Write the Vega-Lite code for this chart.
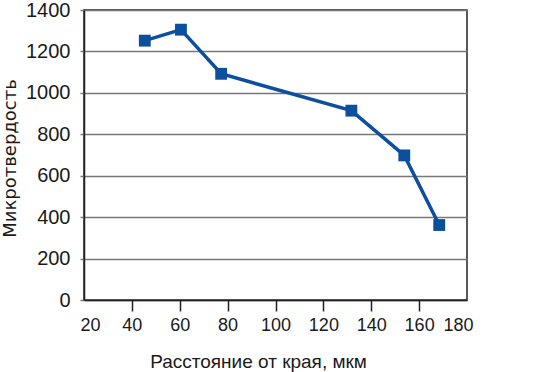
{
  "$schema": "https://vega.github.io/schema/vega-lite/v6.json",
  "width": 383,
  "height": 290,
  "autosize": {"type": "none"},
  "padding": {"left": 84, "top": 10, "right": 71, "bottom": 72},
  "background": "white",
  "config": {
    "font": "Liberation Sans",
    "view": {"stroke": "#222", "strokeWidth": 1.5}
  },
  "data": {
    "values": [
      {"x": 45.4, "y": 1252},
      {"x": 60.5, "y": 1305},
      {"x": 77.3, "y": 1092},
      {"x": 131.7, "y": 914},
      {"x": 153.8, "y": 698},
      {"x": 168.4, "y": 362}
    ]
  },
  "encoding": {
    "x": {
      "field": "x",
      "type": "quantitative",
      "scale": {"domain": [20, 180], "nice": false, "zero": false},
      "axis": {
        "title": "Расстояние от края, мкм",
        "values": [20, 40, 60, 80, 100, 120, 140, 160, 180],
        "format": "d",
        "grid": false,
        "domainColor": "#222",
        "domainWidth": 1.5,
        "tickColor": "#222",
        "tickWidth": 1.5,
        "tickSize": 11,
        "tickOpacity": {"condition": {"test": "datum.value == 20 || datum.value == 180", "value": 0}, "value": 1},
        "labelFlush": false,
        "labelOffset": {"condition": [{"test": "datum.value == 20", "value": 6}, {"test": "datum.value == 180", "value": -9}], "value": 0},
        "labelFontSize": 18,
        "labelColor": "#1a1a1a",
        "labelPadding": 5,
        "titleFontSize": 19,
        "titleFontWeight": "normal",
        "titleColor": "#1a1a1a",
        "titleX": 174,
        "titleY": 67,
        "titleBaseline": "alphabetic",
        "titleAlign": "center"
      }
    },
    "y": {
      "field": "y",
      "type": "quantitative",
      "scale": {"domain": [0, 1400], "nice": false},
      "axis": {
        "title": "Микротвердость",
        "values": [0, 200, 400, 600, 800, 1000, 1200, 1400],
        "format": "d",
        "grid": true,
        "gridColor": "#777",
        "gridWidth": 1.5,
        "domainColor": "#222",
        "domainWidth": 1.5,
        "tickColor": "#777",
        "tickWidth": 1.5,
        "tickSize": 4,
        "labelFontSize": 20,
        "labelColor": "#1a1a1a",
        "labelPadding": 10,
        "titleFont": "DejaVu Sans",
        "titleFontSize": 18,
        "titleFontWeight": "normal",
        "titleColor": "#1a1a1a",
        "titleX": -65,
        "titleY": 148,
        "titleBaseline": "bottom",
        "titleAlign": "center",
        "titleAngle": -90
      }
    }
  },
  "layer": [
    {"mark": {"type": "line", "color": "#0b4f9e", "strokeWidth": 3.5}},
    {"mark": {"type": "point", "shape": "square", "filled": true, "opacity": 1, "color": "#0b4f9e", "size": 140}}
  ]
}
